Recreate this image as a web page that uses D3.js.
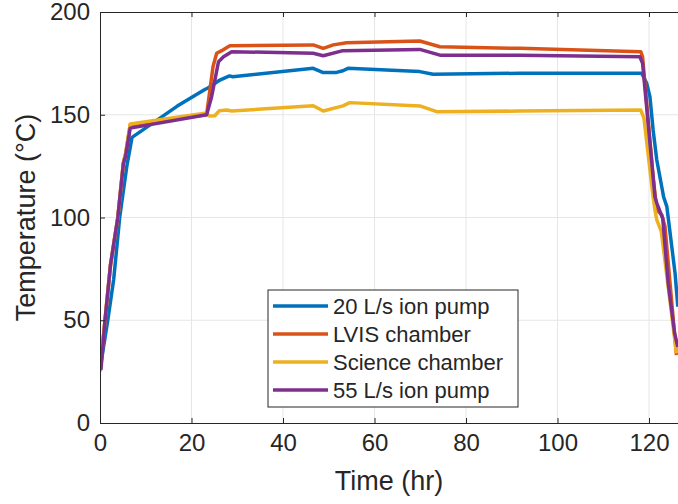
<!DOCTYPE html>
<html>
<head>
<meta charset="utf-8">
<script src="https://cdn.jsdelivr.net/npm/d3@7"></script>
<style>
  body { margin: 0; background: #fff; }
  text { font-family: "Liberation Sans", Arial, Helvetica, sans-serif; fill: #262626; }
</style>
</head>
<body>
<script>
// size of the svg
var w = 678;
var h = 504;

// axis ticks
var xTicks = [0, 20, 40, 60, 80, 100, 120];
var yTicks = [0, 50, 100, 150, 200];

// 20 L/s ion pump
var pump20Time = [0, 1.7, 3, 4.3, 5.9, 7, 16.9, 23, 23.6, 26.2, 28.3, 29, 46.6, 48.8, 51.7, 53.1, 54.2, 69.9, 72.8, 91.8, 118.4, 119.5, 120.2, 120.9, 121.7, 123.2, 123.9, 125.7, 126.3];
var pump20Temp = [26, 50, 70, 100, 125.5, 139, 154.2, 162.4, 163, 166.9, 168.9, 168.5, 172.6, 170.5, 170.6, 171.4, 172.6, 171, 169.7, 170.2, 170.2, 165.3, 158.8, 142.6, 128, 110, 105.3, 72.8, 56.6];

// LVIS chamber
var lvisTime = [0, 1.1, 2.3, 3.9, 5.1, 5.6, 6.6, 23.3, 24.7, 25.5, 26.6, 28, 28.4, 46.6, 48.8, 51, 53.9, 69.9, 74.3, 91.8, 118.2, 118.6, 120.9, 121.7, 122.8, 123.5, 126];
var lvisTemp = [26, 50, 77, 100, 126.5, 131, 145, 150, 173.4, 179.9, 181.2, 183.1, 183.6, 184, 182.3, 184, 185, 185.9, 183.1, 182.3, 180.7, 178.2, 119.9, 103.6, 101.2, 95.5, 33];

// Science chamber
var sciTime = [0, 1.1, 2.3, 3.9, 5.1, 5.6, 6.6, 23.3, 23.9, 25.1, 26.1, 27.7, 28.8, 46.6, 48.8, 53.1, 54.6, 69.9, 73.6, 91.8, 118.2, 118.9, 120.9, 121.3, 121.7, 122.7, 126];
var sciTemp = [25, 50, 77, 100, 126, 131, 145.5, 150.8, 149.4, 149.5, 152, 152.3, 151.8, 154.4, 151.8, 154.3, 155.9, 154.3, 151.5, 151.8, 152.3, 148.3, 110, 103.6, 98.8, 93.1, 33.9];

// 55 L/s ion pump
var pump55Time = [0.2, 1.1, 2.3, 3.9, 5.1, 5.6, 6.6, 23.3, 24.4, 25.9, 27, 28.8, 46.6, 48.8, 53.1, 69.9, 74.3, 91.8, 118, 118.6, 121.3, 121.7, 123, 124.2, 125.6, 126.3];
var pump55Temp = [25.8, 50, 77, 100, 126, 130, 143.5, 150, 158.8, 175.8, 178.2, 180.7, 179.9, 178.7, 181.2, 181.8, 179, 179, 178.2, 175, 110, 107, 99.6, 68, 43.6, 37];

var seriesNames = ["20 L/s ion pump", "LVIS chamber", "Science chamber", "55 L/s ion pump"];
var seriesColors = ["#0072BD", "#D95319", "#EDB120", "#7E2F8E"];

var series = [
  { name: seriesNames[0], color: seriesColors[0], t: pump20Time, v: pump20Temp },
  { name: seriesNames[1], color: seriesColors[1], t: lvisTime, v: lvisTemp },
  { name: seriesNames[2], color: seriesColors[2], t: sciTime, v: sciTemp },
  { name: seriesNames[3], color: seriesColors[3], t: pump55Time, v: pump55Temp }
];

var plotLeft = 100, plotTop = 12, plotBottom = 423;

var x = d3.scaleLinear().domain([0, 127]).range([plotLeft, plotLeft + 127 * 4.575]);
var y = d3.scaleLinear().domain([0, 200]).range([plotBottom, plotTop]);

var svg = d3.select("body").append("svg")
  .attr("width", w)
  .attr("height", h);

svg.append("defs").append("clipPath").attr("id", "clip")
  .append("rect")
  .attr("x", x(0)).attr("y", y(200))
  .attr("width", x(127) - x(0)).attr("height", y(0) - y(200));

// grid
svg.append("g").selectAll("line").data(xTicks.slice(1)).enter().append("line")
  .attr("x1", function(d) { return x(d); }).attr("x2", function(d) { return x(d); })
  .attr("y1", y(0)).attr("y2", y(200))
  .attr("stroke", "#e6e6e6").attr("stroke-width", 1);
svg.append("g").selectAll("line").data(yTicks.slice(1, -1)).enter().append("line")
  .attr("y1", function(d) { return y(d); }).attr("y2", function(d) { return y(d); })
  .attr("x1", x(0)).attr("x2", x(127))
  .attr("stroke", "#e6e6e6").attr("stroke-width", 1);

// lines
var line = d3.line()
  .x(function(d) { return x(d[0]); })
  .y(function(d) { return y(d[1]); });

svg.append("g").attr("clip-path", "url(#clip)")
  .selectAll("path").data(series).enter().append("path")
  .attr("d", function(s) { return line(d3.zip(s.t, s.v)); })
  .attr("fill", "none")
  .attr("stroke", function(s) { return s.color; })
  .attr("stroke-width", 3.5)
  .attr("stroke-linejoin", "round");

// axes (ticks pointing in, matlab style)
var xAxis = svg.append("g").attr("transform", "translate(0," + y(0) + ")")
  .call(d3.axisBottom(x).tickValues(xTicks).tickSizeInner(-5).tickSizeOuter(0).tickPadding(11));
var xTop = svg.append("g").attr("transform", "translate(0," + y(200) + ")")
  .call(d3.axisTop(x).tickValues(xTicks).tickSizeInner(-5).tickSizeOuter(0).tickFormat(""));
var yAxis = svg.append("g").attr("transform", "translate(" + x(0) + ",0)")
  .call(d3.axisLeft(y).tickValues(yTicks).tickSizeInner(-5).tickSizeOuter(0).tickPadding(10));

[xAxis, xTop, yAxis].forEach(function(g) {
  g.select(".domain").attr("stroke", "#262626").attr("stroke-width", 1);
  g.selectAll(".tick line").attr("stroke", "#262626");
  g.selectAll(".tick text").attr("font-size", "24px").attr("fill", "#262626")
    .style("font-family", "'Liberation Sans', Arial, sans-serif");
});

// axis titles
svg.append("text")
  .attr("x", (x(0) + 678) / 2).attr("y", 490)
  .attr("text-anchor", "middle")
  .attr("font-size", "27px")
  .text("Time (hr)");

svg.append("text")
  .attr("transform", "translate(35," + (plotTop + plotBottom) / 2 + ") rotate(-90)")
  .attr("text-anchor", "middle")
  .attr("font-size", "27px")
  .text("Temperature (\u00B0C)");

// legend
var lg = svg.append("g").attr("transform", "translate(268,290)");
lg.append("rect")
  .attr("width", 250).attr("height", 117)
  .attr("fill", "#fff").attr("stroke", "#262626").attr("stroke-width", 1);
var rows = lg.selectAll("g.row").data(series).enter().append("g")
  .attr("class", "row")
  .attr("transform", function(d, i) { return "translate(0," + (16 + i * 28) + ")"; });
rows.append("line")
  .attr("x1", 5).attr("x2", 60)
  .attr("stroke", function(d) { return d.color; })
  .attr("stroke-width", 3.5);
rows.append("text")
  .attr("x", 65).attr("dy", "0.36em")
  .attr("font-size", "22px")
  .text(function(d) { return d.name; });
</script>
</body>
</html>
